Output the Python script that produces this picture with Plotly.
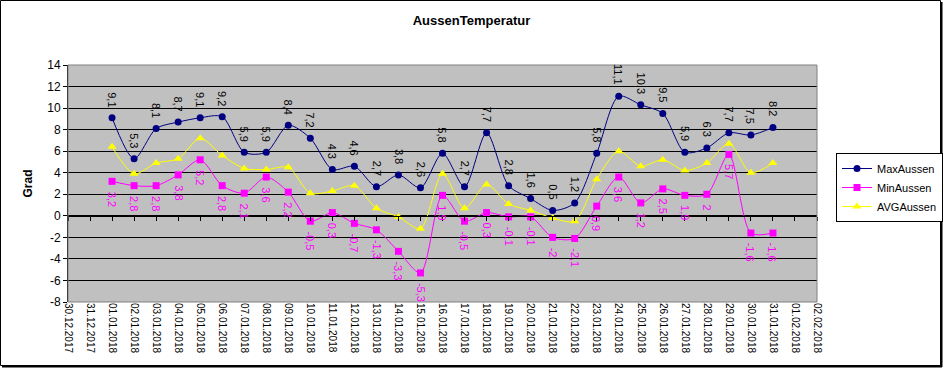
import plotly.graph_objects as go
import pandas as pd

dates = pd.date_range("2018-01-01", "2018-01-31", freq="D")
max_aussen = [9.1, 5.3, 8.1, 8.7, 9.1, 9.2, 5.9, 5.9, 8.4, 7.2, 4.3, 4.6, 2.7, 3.8, 2.6, 5.8,
              2.7, 7.7, 2.8, 1.6, 0.5, 1.2, 5.8, 11.1, 10.3, 9.5, 5.9, 6.3, 7.7, 7.5, 8.2]
min_aussen = [3.2, 2.8, 2.8, 3.8, 5.2, 2.8, 2.1, 3.6, 2.2, -0.5, 0.3, -0.7, -1.3, -3.3, -5.3, 1.9,
              -0.5, 0.3, -0.1, -0.1, -2, -2.1, 0.9, 3.6, 1.2, 2.5, 1.9, 2, 5.7, -1.6, -1.6]
avg_aussen = [6.4, 3.9, 4.9, 5.3, 7.2, 5.6, 4.4, 4.3, 4.5, 2.1, 2.3, 2.8, 0.7, -0.1, -1.2, 3.9,
              0.7, 2.9, 1.1, 0.5, -0.2, -0.5, 3.4, 6.0, 4.6, 5.2, 4.2, 4.9, 6.7, 4.0, 4.9]
x_range = ["2017-12-30", "2018-02-02"]
y_range = [-8, 14]
y_ticks = [-8, -6, -4, -2, 0, 2, 4, 6, 8, 10, 12, 14]
y_ticklabels = ["-8", "-6", "-4", "-2", "0", "2", "4", "6", "8", "10", "12", "14"]

FONT = "Arial, Liberation Sans, sans-serif"

def fmt(v):
    s = ("%g" % v)
    return s.replace(".", ",")

fig = go.Figure()
fig.add_trace(go.Scatter(x=dates, y=max_aussen, name="MaxAussen", mode="lines+markers",
                         line=dict(color="#000080", width=1, shape="spline", smoothing=0.8),
                         marker=dict(symbol="circle", size=7, color="#000080")))
fig.add_trace(go.Scatter(x=dates, y=min_aussen, name="MinAussen", mode="lines+markers",
                         line=dict(color="#FF00FF", width=1, shape="spline", smoothing=0.8),
                         marker=dict(symbol="square", size=7, color="#FF00FF")))
fig.add_trace(go.Scatter(x=dates, y=avg_aussen, name="AVGAussen", mode="lines+markers",
                         line=dict(color="#FFFF00", width=1, shape="spline", smoothing=0.8),
                         marker=dict(symbol="triangle-up", size=8, color="#FFFF00")))

ann = []
for d, v in zip(dates, max_aussen):
    ann.append(dict(x=d, y=v, xref="x", yref="y", text=fmt(v), textangle=90, showarrow=False,
                    yanchor="bottom", xanchor="center", yshift=9,
                    font=dict(family=FONT, size=11, color="black")))
for d, v in zip(dates, min_aussen):
    ann.append(dict(x=d, y=v, xref="x", yref="y", text=fmt(v), textangle=90, showarrow=False,
                    yanchor="top", xanchor="center", yshift=-8,
                    font=dict(family=FONT, size=11, color="#FF00FF")))

W, H = 943, 368
L, R, T, B = 68, 817, 65, 302
pw, ph = R - L, B - T

def px(xp):
    return (xp - L) / pw

def py(yp):
    return (B - yp) / ph

shapes = [
    dict(type="rect", xref="paper", yref="paper", x0=0, x1=1, y0=0, y1=1,
         line=dict(color="#808080", width=1), layer="above"),
    dict(type="rect", xref="paper", yref="paper", x0=px(0.5), x1=px(940.5), y0=py(0.5), y1=py(365.5),
         line=dict(color="black", width=1), layer="above"),
    dict(type="line", xref="paper", yref="paper", x0=px(941.5), x1=px(941.5), y0=py(2), y1=py(367),
         line=dict(color="black", width=2), layer="above"),
    dict(type="line", xref="paper", yref="paper", x0=px(2), x1=px(942), y0=py(366.5), y1=py(366.5),
         line=dict(color="black", width=2), layer="above"),
]

fig.update_layout(
    width=W, height=H,
    margin=dict(l=L, r=W - R, t=T, b=H - B, autoexpand=False),
    paper_bgcolor="white", plot_bgcolor="#C0C0C0",
    separators=",.",
    font=dict(family=FONT, size=12, color="black"),
    title=dict(text="<b>AussenTemperatur</b>", x=0.5, xref="container", xanchor="center",
               y=1 - 20 / H, yref="container", yanchor="middle",
               font=dict(family=FONT, size=13, color="black")),
    xaxis=dict(type="date", range=x_range, dtick=86400000, tick0="2017-12-30",
               tickformat="%d.%m.%Y", tickangle=90, showgrid=False, zeroline=False,
               ticks="", showline=False, automargin=False, tickfont=dict(family=FONT, size=10)),
    xaxis2=dict(type="date", range=x_range, dtick=86400000, tick0="2017-12-30",
                overlaying="x", anchor="free", position=(0 - y_range[0]) / (y_range[1] - y_range[0]),
                showticklabels=False, ticks="outside", ticklen=4, tickcolor="black", automargin=False,
                showline=True, linecolor="black", linewidth=1, showgrid=False, zeroline=False),
    yaxis=dict(range=y_range, tickmode="array", tickvals=y_ticks, ticktext=y_ticklabels,
               showgrid=True, gridcolor="black", gridwidth=1,
               zeroline=False, ticks="outside", ticklen=4, tickcolor="black", automargin=False,
               showline=True, linecolor="black", linewidth=1,
               title=dict(text="<b>Grad</b>", font=dict(family=FONT, size=12), standoff=12),
               tickfont=dict(family=FONT, size=12)),
    legend=dict(x=px(836), y=py(153), xanchor="left", yanchor="top",
                bordercolor="black", borderwidth=1, bgcolor="white",
                font=dict(family=FONT, size=11), tracegroupgap=0, itemwidth=30),
    annotations=ann,
    shapes=shapes,
    showlegend=True,
)
fig.add_trace(go.Scatter(x=[dates[0]], y=[None], xaxis="x2", showlegend=False, hoverinfo="skip"))

fig.write_html("out.html", config={"displayModeBar": False},
               post_script="document.body.style.margin='0';document.body.style.overflow='hidden';")
